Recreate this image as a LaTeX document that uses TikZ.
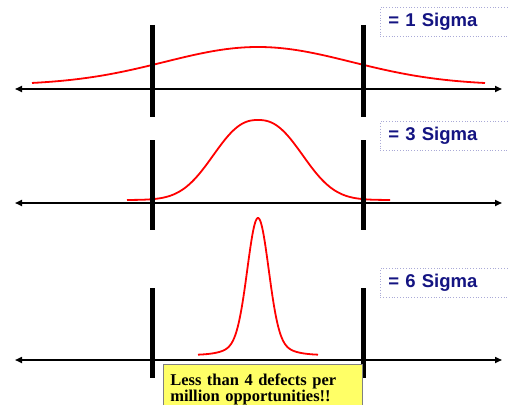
\documentclass[tikz,border=0pt]{standalone}
\usepackage{fontspec}
\setmainfont{Liberation Serif}
\newfontfamily\labelfont{Liberation Sans}
\usetikzlibrary{arrows.meta}
\definecolor{navy}{RGB}{20,20,130}
\definecolor{lav}{RGB}{170,170,215}
\definecolor{noteyellow}{RGB}{255,255,102}
\tikzset{
  axisline/.style={line width=1.6pt,{Triangle[length=7pt,width=6pt]}-{Triangle[length=7pt,width=6pt]}},
  specbar/.style={line width=5pt},
  curve/.style={red,line width=1.8pt},
  sigmabox/.style={draw=lav,dotted,line width=0.8pt,fill=white,anchor=north west,
    minimum height=29pt,minimum width=140pt,text width=124pt,inner xsep=7pt,
    font=\labelfont\bfseries\fontsize{18.5}{20}\selectfont,text=navy,align=left},
  notebox/.style={draw=gray,line width=0.6pt,fill=noteyellow,anchor=north west,
    minimum width=199pt,minimum height=50pt,text width=185pt,inner xsep=7pt,inner ysep=1pt,
    font=\bfseries\fontsize{16.5}{16.5}\selectfont,align=left}
}
\begin{document}
\begin{tikzpicture}[x=1pt,y=-1pt]
\useasboundingbox (0,0) rectangle (508,404);
% row 1
\coordinate (a1l) at (15,89); \coordinate (a1r) at (502,89);
\coordinate (b1lt) at (152,25); \coordinate (b1lb) at (152,117);
\coordinate (b1rt) at (363,25); \coordinate (b1rb) at (363,117);
\draw[curve] plot[domain=32:485,samples=120] (\x,{85-38*exp(-0.5*((\x-258)/93.5)^2)});
\draw[axisline] (a1l) -- (a1r);
\draw[specbar] (b1lt) -- (b1lb);
\draw[specbar] (b1rt) -- (b1rb);
\node[sigmabox] (s1) at (380,7) {= 1 Sigma};
% row 2
\coordinate (a2l) at (15,203); \coordinate (a2r) at (502,203);
\coordinate (b2lt) at (152,140); \coordinate (b2lb) at (152,230);
\coordinate (b2rt) at (363,140); \coordinate (b2rb) at (363,230);
\draw[curve] plot[domain=127:390,samples=150] (\x,{200-80*exp(-0.5*(abs(\x-258)/42)^2.4)});
\draw[axisline] (a2l) -- (a2r);
\draw[specbar] (b2lt) -- (b2lb);
\draw[specbar] (b2rt) -- (b2rb);
\node[sigmabox] (s3) at (380,121) {= 3 Sigma};
% row 3
\coordinate (a3l) at (15,360); \coordinate (a3r) at (502,360);
\coordinate (b3lt) at (152,288); \coordinate (b3lb) at (152,378);
\coordinate (b3rt) at (363,288); \coordinate (b3rb) at (363,378);
\draw[curve] plot[domain=198:318,samples=160] (\x,{355-137*(0.9*exp(-0.5*((\x-258)/10.5)^2)+0.1*exp(-0.5*((\x-258)/22)^2))});
\draw[axisline] (a3l) -- (a3r);
\draw[specbar] (b3lt) -- (b3lb);
\draw[specbar] (b3rt) -- (b3rb);
\node[sigmabox] (s6) at (380,268) {= 6 Sigma};
\node[notebox] (note) at (163,364) {Less than 4 defects per\\million opportunities!!};
\end{tikzpicture}
\end{document}
